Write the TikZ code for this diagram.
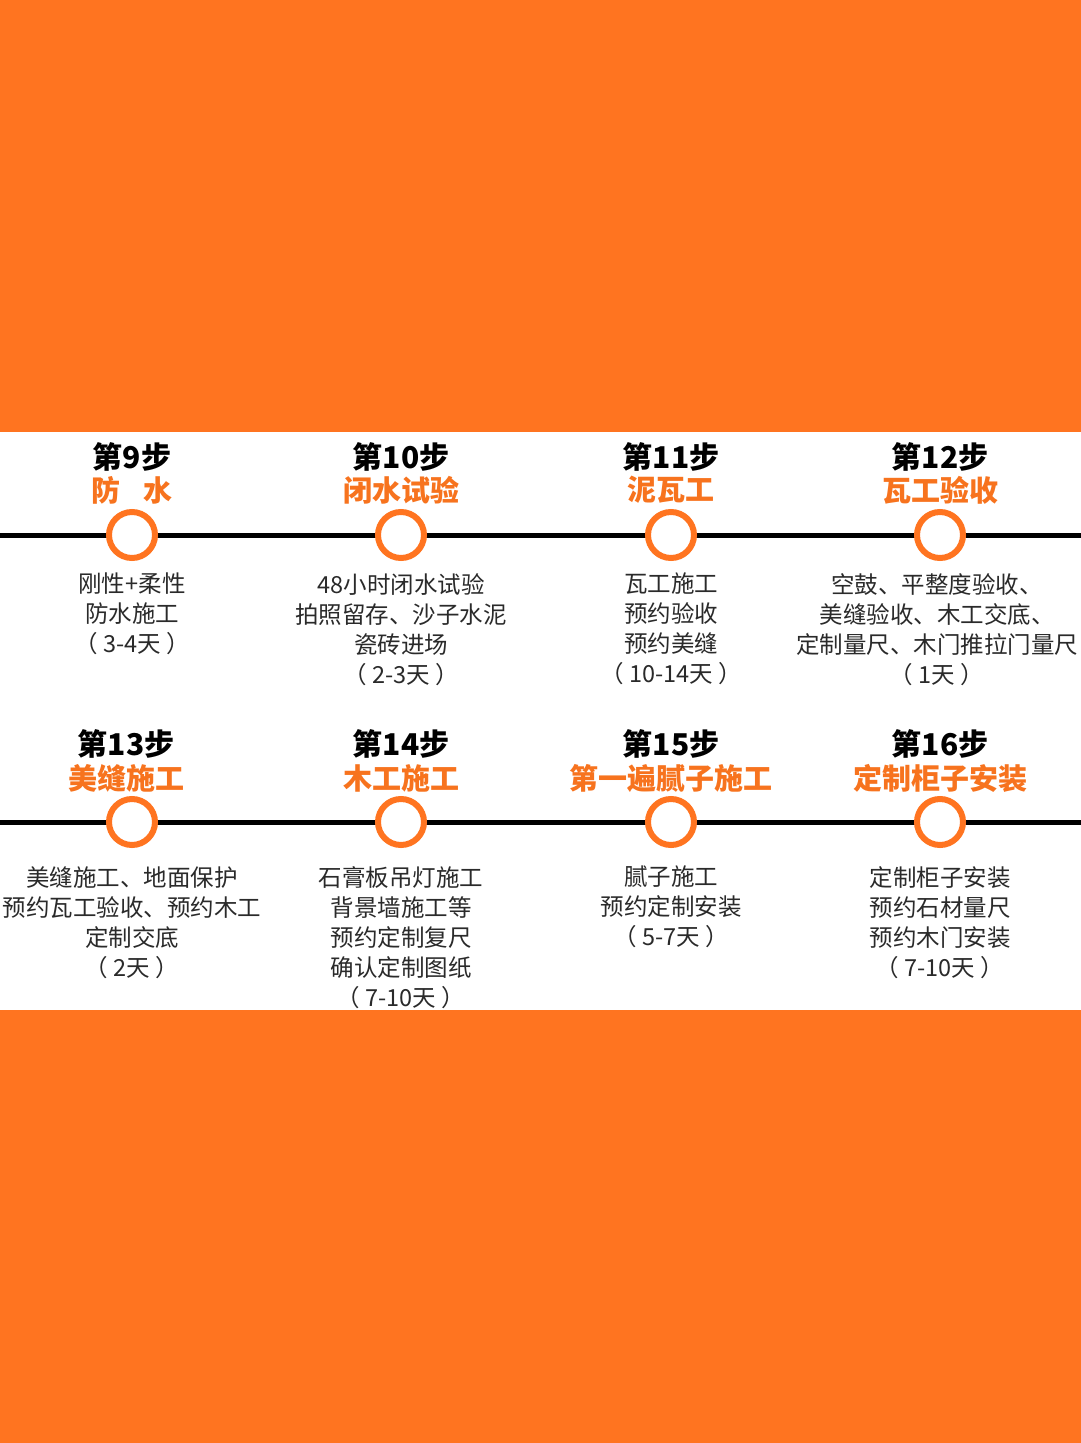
\documentclass[tikz,border=0pt]{standalone}
\usepackage{fontspec}
\setmainfont{Noto Sans CJK SC}
\definecolor{org}{HTML}{FF7420}
\definecolor{otext}{HTML}{F7731E}
\definecolor{dtext}{HTML}{2A2A2A}
\tikzset{
 step title/.style={font=\bfseries\fontsize{30}{32}\selectfont, text=black, inner sep=0},
 sub title/.style={font=\bfseries\fontsize{29}{32}\selectfont, text=otext, inner sep=0},
 desc/.style={font=\fontsize{23.5}{30}\selectfont, text=dtext, align=center, anchor=north, inner sep=0},
 dot/.style={circle, draw=org, line width=6pt, fill=white, minimum size=46pt, inner sep=0},
 tline/.style={line width=5pt, black}
}
\begin{document}
\begin{tikzpicture}[x=1pt,y=-1pt]
\useasboundingbox (0,0) rectangle (1080,1443);
\fill[org] (-2,-2) rectangle (1082,1445);
\fill[white] (-2,432) rectangle (1082,1010);
\coordinate (l1) at (-2,535); \coordinate (r1) at (1082,535);
\coordinate (l2) at (-2,822); \coordinate (r2) at (1082,822);
\draw[tline] (l1) -- (r1);
\draw[tline] (l2) -- (r2);
% row 1
\node[dot] (c9) at (132,535) {};
\node[dot] (c10) at (401,535) {};
\node[dot] (c11) at (671,535) {};
\node[dot] (c12) at (940,535) {};
\node[step title] (t9) at (132,457) {第9步};
\node[step title] (t10) at (401,457) {第10步};
\node[step title] (t11) at (671,457) {第11步};
\node[step title] (t12) at (940,457) {第12步};
\node[sub title] (s9) at (132,490) {防\hspace{0.8em}水};
\node[sub title] (s10) at (401,490) {闭水试验};
\node[sub title] (s11) at (671,490) {泥瓦工};
\node[sub title] (s12) at (940,490) {瓦工验收};
\node[desc] (d9) at (132,573) {刚性+柔性\\防水施工\\（ 3-4天 ）};
\node[desc] (d10) at (401,573) {48小时闭水试验\\拍照留存、沙子水泥\\瓷砖进场\\（ 2-3天 ）};
\node[desc] (d11) at (671,573) {瓦工施工\\预约验收\\预约美缝\\（ 10-14天 ）};
\node[desc] (d12) at (937,573) {空鼓、平整度验收、\\美缝验收、木工交底、\\定制量尺、木门推拉门量尺\\（ 1天 ）};
% row 2
\node[dot] (c13) at (132,822) {};
\node[dot] (c14) at (401,822) {};
\node[dot] (c15) at (671,822) {};
\node[dot] (c16) at (940,822) {};
\node[step title] (t13) at (126,744) {第13步};
\node[step title] (t14) at (401,744) {第14步};
\node[step title] (t15) at (671,744) {第15步};
\node[step title] (t16) at (940,744) {第16步};
\node[sub title] (s13) at (126,778) {美缝施工};
\node[sub title] (s14) at (401,778) {木工施工};
\node[sub title] (s15) at (671,778) {第一遍腻子施工};
\node[sub title] (s16) at (940,778) {定制柜子安装};
\node[desc] (d13) at (132,866) {美缝施工、地面保护\\预约瓦工验收、预约木工\\定制交底\\（ 2天 ）};
\node[desc] (d14) at (401,866) {石膏板吊灯施工\\背景墙施工等\\预约定制复尺\\确认定制图纸\\（ 7-10天 ）};
\node[desc] (d15) at (671,866) {腻子施工\\预约定制安装\\（ 5-7天 ）};
\node[desc] (d16) at (940,866) {定制柜子安装\\预约石材量尺\\预约木门安装\\（ 7-10天 ）};
\end{tikzpicture}
\end{document}
